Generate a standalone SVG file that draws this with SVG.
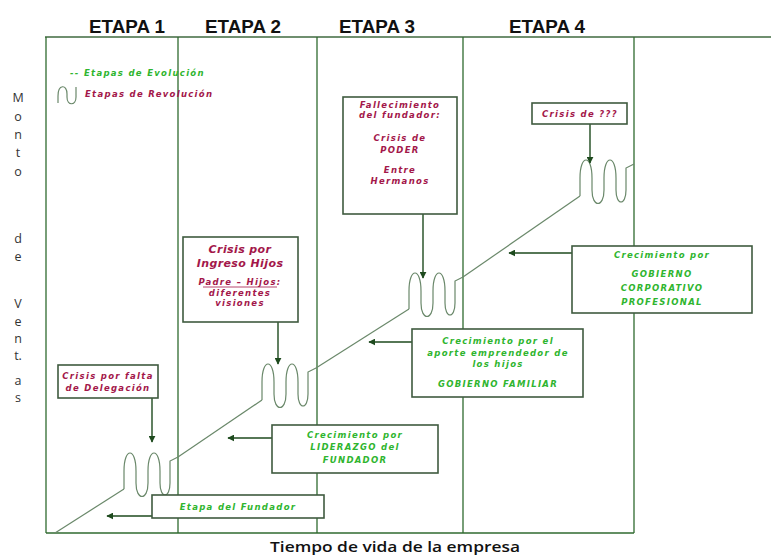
<svg xmlns="http://www.w3.org/2000/svg" width="771" height="555" viewBox="0 0 771 555">
  <defs>
    <style>
      .frame { stroke: #6f8f6f; stroke-width: 2; fill: none; }
      .stage { stroke: #2f6a2f; stroke-width: 1.3; fill: none; }
      .curve { stroke: #6a886a; stroke-width: 1.2; fill: none; }
      .box { fill: #ffffff; stroke: #3f5a3f; stroke-width: 1.6; }
      .arrow { stroke: #1e4a1e; stroke-width: 1.4; fill: none; marker-end: url(#head); }
      .title { font-family: "Liberation Sans", Arial, sans-serif; font-weight: bold; font-size: 18px; fill: #111; }
      .axis { font-family: "Open Sans", "DejaVu Sans", sans-serif; font-size: 12.5px; fill: #333; text-anchor: middle; }
      .red { font-family: "DejaVu Sans", Verdana, sans-serif; font-weight: bold; font-style: italic; font-size: 8.5px; fill: #a3174a; text-anchor: middle; letter-spacing: 1.3px; }
      .redbig { font-family: "DejaVu Sans", Verdana, sans-serif; font-weight: bold; font-style: italic; font-size: 11px; fill: #a3174a; text-anchor: middle; letter-spacing: 0.4px; }
      .green { font-family: "DejaVu Sans", Verdana, sans-serif; font-weight: bold; font-style: italic; font-size: 8.5px; fill: #2fb52f; text-anchor: middle; letter-spacing: 1.3px; }
    </style>
    <marker id="head" viewBox="0 0 10 10" refX="9" refY="5" markerWidth="7" markerHeight="7" orient="auto" markerUnits="userSpaceOnUse">
      <path d="M0,0 L10,5 L0,10 z" fill="#1e4a1e"/>
    </marker>
    <!-- revolution squiggle: starts on the growth line, ends one step higher -->
    <path id="wave" d="M0,0 L0,-18 C0,-42 12,-42 12,-18 L12,-6 C12,12 24,12 24,-6 L24,-18 C24,-42 36,-42 36,-18 L36,-6 C36,10 46,10 46,-6 L46,-28 L54,-32"/>
  </defs>

  <rect width="771" height="555" fill="#ffffff"/>

  <!-- stage headers -->
  <g id="headers">
    <text class="title" x="89" y="33" textLength="76" lengthAdjust="spacingAndGlyphs">ETAPA 1</text>
    <text class="title" x="205" y="33" textLength="76" lengthAdjust="spacingAndGlyphs">ETAPA 2</text>
    <text class="title" x="339" y="33" textLength="76" lengthAdjust="spacingAndGlyphs">ETAPA 3</text>
    <text class="title" x="509" y="33" textLength="76" lengthAdjust="spacingAndGlyphs">ETAPA 4</text>
  </g>

  <!-- chart frame and stage dividers -->
  <g id="frame">
    <line class="frame" x1="45" y1="37" x2="771" y2="37"/>
    <line class="stage" x1="46" y1="37" x2="46" y2="533"/>
    <line class="stage" x1="46" y1="533" x2="634" y2="533"/>
    <line class="stage" x1="178" y1="37" x2="178" y2="533"/>
    <line class="stage" x1="317" y1="37" x2="317" y2="533"/>
    <line class="stage" x1="463" y1="37" x2="463" y2="533"/>
    <line class="stage" x1="634" y1="37" x2="634" y2="533"/>
  </g>

  <!-- vertical axis label -->
  <g id="y-axis">
    <text class="axis" x="18" y="102">M</text>
    <text class="axis" x="18" y="121">o</text>
    <text class="axis" x="18" y="139">n</text>
    <text class="axis" x="18" y="157">t</text>
    <text class="axis" x="18" y="176">o</text>
    <text class="axis" x="18" y="243">d</text>
    <text class="axis" x="18" y="261">e</text>
    <text class="axis" x="18" y="308">V</text>
    <text class="axis" x="18" y="326">e</text>
    <text class="axis" x="18" y="343">n</text>
    <text class="axis" x="18" y="360">t.</text>
    <text class="axis" x="18" y="385">a</text>
    <text class="axis" x="18" y="402">s</text>
  </g>

  <!-- horizontal axis label -->
  <text id="x-axis" x="270" y="552" font-family="Open Sans, DejaVu Sans, sans-serif" font-size="15" font-weight="600" fill="#111" textLength="250" lengthAdjust="spacingAndGlyphs">Tiempo de vida de la empresa</text>

  <!-- legend -->
  <g id="legend">
    <text class="green" x="70" y="76" style="text-anchor:start">-- Etapas de Evolución</text>
    <path class="curve" d="M58,103 L58,96 C58,84 67,84 67,94 L67,97 C67,106 76,106 76,97 L76,87" />
    <text class="red" x="85" y="97" style="text-anchor:start">Etapas de Revolución</text>
  </g>

  <!-- growth curve with revolution squiggles -->
  <g id="growth-curve">
    <line class="curve" x1="55" y1="533" x2="124" y2="489"/>
    <use href="#wave" class="curve" transform="translate(124,489)"/>
    <line class="curve" x1="178" y1="457" x2="262" y2="400"/>
    <use href="#wave" class="curve" transform="translate(262,400)"/>
    <line class="curve" x1="316" y1="368" x2="409" y2="309"/>
    <use href="#wave" class="curve" transform="translate(409,309)"/>
    <line class="curve" x1="463" y1="277" x2="580" y2="196"/>
    <use href="#wave" class="curve" transform="translate(580,196)"/>
  </g>

  <!-- connectors from boxes to the curve -->
  <g id="connectors">
    <line class="arrow" x1="152" y1="398" x2="152" y2="442"/>
    <line class="arrow" x1="278" y1="322" x2="278" y2="364"/>
    <line class="arrow" x1="423" y1="214" x2="423" y2="278"/>
    <line class="arrow" x1="590" y1="124" x2="590" y2="163"/>
    <line class="arrow" x1="572" y1="253" x2="509" y2="253"/>
    <line class="arrow" x1="412" y1="342" x2="369" y2="342"/>
    <line class="arrow" x1="272" y1="438" x2="228" y2="438"/>
    <line class="arrow" x1="152" y1="516" x2="107" y2="516"/>
  </g>

  <!-- crisis boxes -->
  <g id="crisis-delegacion">
    <rect class="box" x="58" y="365" width="100" height="33"/>
    <text class="red" x="108" y="379">Crisis por falta</text>
    <text class="red" x="108" y="391">de Delegación</text>
  </g>

  <g id="crisis-hijos">
    <rect class="box" x="183" y="237" width="115" height="85"/>
    <text class="redbig" x="240" y="253">Crisis por</text>
    <text class="redbig" x="240" y="267">Ingreso Hijos</text>
    <text class="red" x="240" y="285">Padre – Hijos:</text>
    <line x1="203" y1="287" x2="277" y2="287" stroke="#a3174a" stroke-width="0.8"/>
    <text class="red" x="240" y="296">diferentes</text>
    <text class="red" x="240" y="306">visiones</text>
  </g>

  <g id="crisis-poder">
    <rect class="box" x="343" y="97" width="114" height="117"/>
    <text class="red" x="400" y="108">Fallecimiento</text>
    <text class="red" x="400" y="118">del fundador:</text>
    <text class="red" x="400" y="141">Crisis de</text>
    <text class="red" x="400" y="153">PODER</text>
    <text class="red" x="400" y="173">Entre</text>
    <text class="red" x="400" y="184">Hermanos</text>
  </g>

  <g id="crisis-futura">
    <rect class="box" x="532" y="103" width="95" height="21"/>
    <text class="red" x="580" y="117">Crisis de ???</text>
  </g>

  <!-- evolution boxes -->
  <g id="crecimiento-profesional">
    <rect class="box" x="572" y="246" width="180" height="67"/>
    <text class="green" x="662" y="258">Crecimiento por</text>
    <text class="green" x="662" y="277">GOBIERNO</text>
    <text class="green" x="662" y="291">CORPORATIVO</text>
    <text class="green" x="662" y="305">PROFESIONAL</text>
  </g>

  <g id="crecimiento-familiar">
    <rect class="box" x="412" y="329" width="171" height="68"/>
    <text class="green" x="498" y="344">Crecimiento por el</text>
    <text class="green" x="498" y="356">aporte emprendedor de</text>
    <text class="green" x="498" y="367">los hijos</text>
    <text class="green" x="498" y="387">GOBIERNO FAMILIAR</text>
  </g>

  <g id="crecimiento-fundador">
    <rect class="box" x="272" y="425" width="166" height="48"/>
    <text class="green" x="355" y="438">Crecimiento por</text>
    <text class="green" x="355" y="450">LIDERAZGO del</text>
    <text class="green" x="355" y="463">FUNDADOR</text>
  </g>

  <g id="etapa-fundador">
    <rect class="box" x="152" y="495" width="172" height="23"/>
    <text class="green" x="238" y="510">Etapa del Fundador</text>
  </g>
</svg>
